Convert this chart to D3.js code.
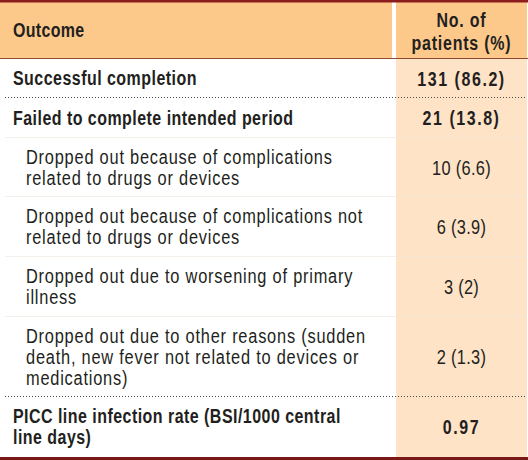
<!DOCTYPE html>
<html>
<head>
<meta charset="utf-8">
<script src="https://cdn.jsdelivr.net/npm/d3@7"></script>
<style>
  html, body { margin: 0; padding: 0; background: #fff; }
  svg { display: block; }
  text { font-family: "Liberation Sans", Arial, sans-serif; fill: #231f20; }
</style>
</head>
<body>
<div id="chart"></div>
<script>
// ---- data ----
const headerLabels = ["Outcome"];
const headerValueLines = ["No. of", "patients (%)"];
const outcomeLines = [
  ["Successful completion"],
  ["Failed to complete intended period"],
  ["Dropped out because of complications", "related to drugs or devices"],
  ["Dropped out because of complications not", "related to drugs or devices"],
  ["Dropped out due to worsening of primary", "illness"],
  ["Dropped out due to other reasons (sudden", "death, new fever not related to devices or", "medications)"],
  ["PICC line infection rate (BSI/1000 central", "line days)"]
];
const patientValues = ["131 (86.2)", "21 (13.8)", "10 (6.6)", "6 (3.9)", "3 (2)", "2 (1.3)", "0.97"];
const rowLevels = [0, 0, 1, 1, 1, 1, 0]; // 0 = main bold row, 1 = indented sub-row

// ---- layout ----
const W = 528, H = 460;
const colSplit = 392, rightX0 = 396, rightX1 = 527;
const headerTop = 2, headerBottom = 58, bodyTop = 59, bodyBottom = 457;
const lineH = 21;
const SX = 0.78; // horizontal condensing of the type
const sx = v => v / SX;

const svg = d3.select("#chart").append("svg").attr("width", W).attr("height", H);

// row geometry computed from line counts
const rawH = outcomeLines.map(l => 19 + 20.5 * l.length);
const k = (bodyBottom - bodyTop) / d3.sum(rawH);
const rowH = rawH.map(h => h * k);
const rowTop = [];
rowH.reduce((acc, h, i) => { rowTop[i] = acc; return acc + h; }, bodyTop);

const valueCenter = (rightX0 + rightX1) / 2;

// header band
svg.append("rect").attr("x", 0).attr("y", headerTop).attr("width", colSplit).attr("height", headerBottom - headerTop).attr("fill", "#fdc98b");
svg.append("rect").attr("x", rightX0).attr("y", headerTop).attr("width", rightX1 - rightX0).attr("height", headerBottom - headerTop).attr("fill", "#fdc98b");
// right body column
svg.append("rect").attr("x", rightX0).attr("y", bodyTop).attr("width", rightX1 - rightX0).attr("height", bodyBottom - bodyTop).attr("fill", "#fee3c7");

// borders
svg.append("rect").attr("x", 0).attr("y", 0).attr("width", W).attr("height", 2.5).attr("fill", "#8c1d1d");
svg.append("rect").attr("x", 0).attr("y", bodyBottom).attr("width", W).attr("height", 3).attr("fill", "#7a1818");
svg.append("line").attr("x1", 0).attr("x2", W).attr("y1", headerBottom + 0.5).attr("y2", headerBottom + 0.5)
  .attr("stroke", "#8f4a36").attr("stroke-width", 1);

// separators between rows
svg.append("g").selectAll("line")
  .data(rowTop.map((t, i) => ({ t, i, level: rowLevels[i] })).filter(d => d.i > 0))
  .join("line")
  .attr("x1", 5).attr("x2", 525)
  .attr("y1", d => Math.round(d.t) - 0.5).attr("y2", d => Math.round(d.t) - 0.5)
  .attr("stroke", d => d.level === 0 ? "#4a4a4a" : "#efe6dc")
  .attr("stroke-width", 1)
  .attr("stroke-opacity", d => d.level === 0 ? 1 : 0.6)
  .attr("stroke-dasharray", d => d.level === 0 ? "1,2" : null);

// text layer, condensed horizontally
const T = svg.append("g").attr("transform", `scale(${SX},1)`);

const boldStyle = { size: 20.5, weight: "bold", ls: 0.6 };
const regStyle = { size: 21, weight: "normal", ls: 1.0 };

T.append("text").attr("x", sx(13)).attr("y", 37)
  .attr("font-size", boldStyle.size).attr("font-weight", "bold").attr("letter-spacing", 0.4)
  .text(headerLabels[0]);
T.append("text").attr("text-anchor", "middle")
  .attr("font-size", boldStyle.size).attr("font-weight", "bold").attr("letter-spacing", 1.0)
  .selectAll("tspan").data(headerValueLines).join("tspan")
  .attr("x", sx(valueCenter)).attr("y", (d, i) => 27 + i * 23).text(d => d);

const rowData = outcomeLines.map((lines, i) => ({
  lines, value: patientValues[i], level: rowLevels[i], top: rowTop[i], h: rowH[i], i
}));

const rows = T.selectAll("g.row").data(rowData).join("g").attr("class", "row");

rows.append("text")
  .attr("font-size", d => d.level === 0 ? boldStyle.size : regStyle.size)
  .attr("font-weight", d => d.level === 0 ? "bold" : "normal")
  .attr("letter-spacing", d => d.level === 0 ? boldStyle.ls : regStyle.ls)
  .each(function(d) {
    const tx = sx(d.level === 0 ? 13 : 26);
    d3.select(this).selectAll("tspan").data(d.lines).join("tspan")
      .attr("x", tx)
      .attr("y", (l, j) => d.top + (d.h - d.lines.length * lineH) / 2 + 17 + j * lineH)
      .text(l => l);
  });

rows.append("text")
  .attr("x", sx(valueCenter)).attr("text-anchor", "middle")
  .attr("y", d => d.top + d.h / 2 + 7)
  .attr("font-size", d => d.level === 0 ? boldStyle.size : regStyle.size)
  .attr("font-weight", d => d.level === 0 ? "bold" : "normal")
  .attr("letter-spacing", d => d.level === 0 ? 2.0 : 0.4)
  .text(d => d.value);
</script>
</body>
</html>
